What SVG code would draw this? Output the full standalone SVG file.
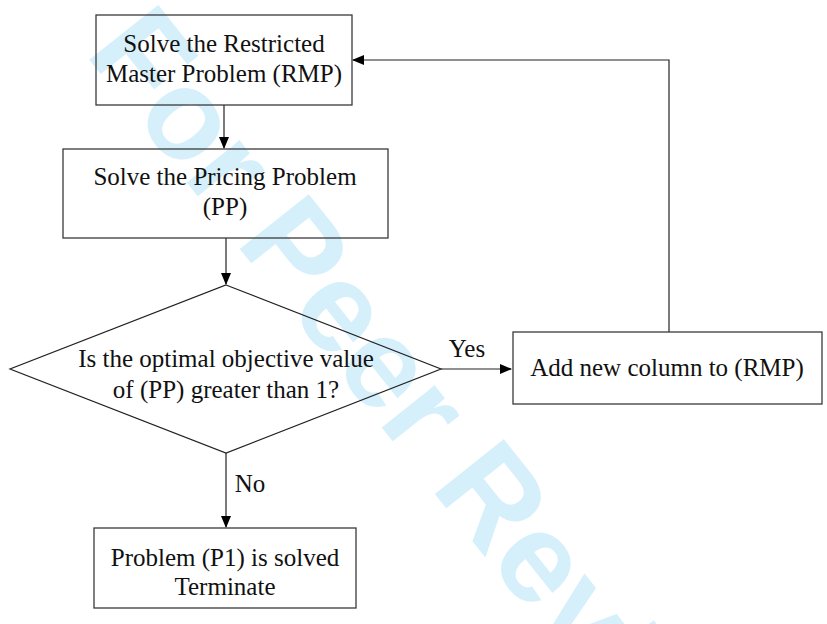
<svg xmlns="http://www.w3.org/2000/svg" width="827" height="624" viewBox="0 0 827 624">
<style>
.box{fill:none;stroke:#3a3a3a;stroke-width:1.3}
.conn{fill:none;stroke:#222;stroke-width:1.2}
.t{font-family:"Liberation Serif","Times New Roman",serif;font-size:25px;fill:#111;text-anchor:middle}
.wm{font-family:"Liberation Sans",Arial,sans-serif;font-weight:bold;font-size:128px;fill:#d6f0fb}
</style>
<defs>
<marker id="arr" markerWidth="12" markerHeight="10" refX="11" refY="5" orient="auto" markerUnits="userSpaceOnUse">
<path d="M0,0 L12,5 L0,10 Z" fill="#000"/>
</marker>
</defs>
<rect width="827" height="624" fill="#fff"/>
<text class="wm" transform="translate(84,53) rotate(51.5)">For Peer Review</text>
<g id="connectors">
<line class="conn" x1="224" y1="105" x2="224" y2="148" marker-end="url(#arr)"/>
<line class="conn" x1="226" y1="238" x2="226" y2="284" marker-end="url(#arr)"/>
<line class="conn" x1="441" y1="369" x2="511" y2="369" marker-end="url(#arr)"/>
<line class="conn" x1="226" y1="453" x2="226" y2="527" marker-end="url(#arr)"/>
<polyline class="conn" points="669,332 669,60 353,60" marker-end="url(#arr)"/>
<text class="t" x="467" y="357">Yes</text>
<text class="t" x="250" y="492">No</text>
</g>
<g id="rmp">
<rect class="box" x="96" y="15" width="256" height="90"/>
<text class="t" x="224" y="52">Solve the Restricted</text>
<text class="t" x="224" y="82">Master Problem (RMP)</text>
</g>
<g id="pp">
<rect class="box" x="63" y="149" width="325" height="89"/>
<text class="t" x="225" y="185">Solve the Pricing Problem</text>
<text class="t" x="225" y="215">(PP)</text>
</g>
<g id="decision">
<polygon class="conn" points="226,285 441,369 226,453 10,369"/>
<text class="t" x="226" y="367">Is the optimal objective value</text>
<text class="t" x="226" y="398">of (PP) greater than 1?</text>
</g>
<g id="addcol">
<rect class="box" x="513" y="332" width="309" height="72"/>
<text class="t" x="667" y="376">Add new column to (RMP)</text>
</g>
<g id="terminate">
<rect class="box" x="94" y="528" width="262" height="80"/>
<text class="t" x="225" y="566">Problem (P1) is solved</text>
<text class="t" x="225" y="595">Terminate</text>
</g>
</svg>
